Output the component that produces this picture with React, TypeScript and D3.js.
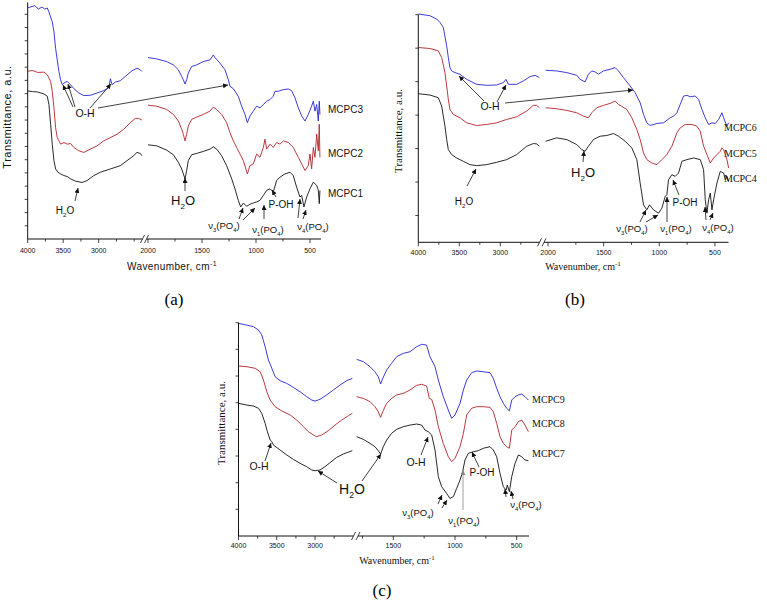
import React from "react";
import * as d3 from "d3";

type Pt = [number, number];

// ---------------- Panel (a) : wavenumber (cm-1), transmittance (a.u.) ----------------
const MCPC3_L_A: Pt[] = [[3995,175],[3900,176.5],[3850,174],[3800,175.5],[3760,174],[3724,174.75],[3701,171.75],[3654,164.25],[3630,156.75],[3607,144.25],[3584,135.5],[3560,126.75],[3537,120.5],[3513,116.75],[3490,118],[3443,119.25],[3420,118],[3396,116.75],[3350,113.75],[3280,110.5],[3209,108.5],[3116,108.75],[3022,110.5],[2929,112.25],[2859,114.25],[2835,121.25],[2812,116.75],[2765,118.75],[2695,119.75],[2625,123],[2531,127.25],[2461,129.25],[2414,128],[2391,126.75]];
const MCPC2_L_A: Pt[] = [[3995,127],[3930,127.5],[3860,126],[3771,126.25],[3724,124.25],[3677,119.25],[3654,111.75],[3630,99.25],[3607,84.25],[3584,76.75],[3560,74.25],[3537,71.75],[3490,73],[3443,71.75],[3396,72.25],[3350,69.25],[3280,66.75],[3209,65.5],[3116,68],[3022,70.5],[2929,74.25],[2835,76.75],[2742,79.25],[2648,83],[2555,88],[2484,91.25],[2438,91.25],[2391,90]];
const MCPC1_L_A: Pt[] = [[3995,112],[3930,111.5],[3864,111.25],[3771,109.75],[3724,108],[3701,101.75],[3677,86.75],[3654,71.75],[3630,59.25],[3607,53],[3574,50.5],[3537,49.25],[3490,48],[3443,47.25],[3396,45.5],[3326,43.75],[3233,42.75],[3163,44.25],[3069,48],[2976,50.5],[2835,53],[2695,55.5],[2601,59.25],[2508,63],[2461,65.5],[2414,64.75],[2391,63]];
const MCPC3_R_A: Pt[] = [[2000,137.25],[1920,136.25],[1827,134.25],[1765,131.75],[1719,128],[1688,123],[1673,120.5],[1657,117.25],[1642,120.5],[1627,125.5],[1596,130.5],[1549,131.75],[1488,134.25],[1426,135.5],[1395,139.25],[1380,137.25],[1333,133],[1287,128],[1256,120.5],[1241,115.5],[1210,113.75],[1164,108],[1133,100.5],[1102,94.25],[1080,88],[1056,93],[1025,96.75],[994,100.5],[963,99.25],[932,101.75],[901,104.25],[870,105.5],[840,108],[824,111.75],[793,111.75],[747,113],[701,113.5],[670,112.25],[639,106.75],[608,99.25],[577,93],[546,89.25],[516,94.25],[485,100.5],[469,104.25],[454,96.75],[438,101.75],[423,89.25],[414,104.25],[408,94.25]];
const MCPC2_R_A: Pt[] = [[2000,101.25],[1920,100.5],[1827,98],[1765,94.25],[1719,89.25],[1688,83],[1673,79.25],[1657,74.25],[1642,79.25],[1627,85.5],[1596,90.5],[1549,92.25],[1488,94.25],[1426,96.75],[1395,99.75],[1364,98],[1318,94.25],[1272,88],[1241,80.5],[1210,74.25],[1179,69.25],[1148,64.25],[1117,59.25],[1080,49.25],[1056,55.5],[1025,56.75],[994,64.25],[963,61.75],[932,69.25],[917,75.5],[901,68],[870,71.75],[840,69.25],[809,73],[778,71.75],[747,74.25],[701,73],[655,69.25],[608,61.75],[577,56.75],[546,51.75],[516,55.5],[500,64.25],[485,53],[469,69.25],[454,61.75],[438,79.25],[423,66.75],[414,86.75],[408,61.75]];
const MCPC1_R_A: Pt[] = [[2000,71.25],[1920,70.5],[1827,67.25],[1765,63.75],[1719,58],[1688,53],[1673,49.25],[1657,45.5],[1642,51.75],[1627,59.25],[1596,63.75],[1549,64.75],[1488,66.25],[1426,68],[1395,69.75],[1364,68],[1318,63],[1272,55.5],[1225,45.5],[1195,38],[1164,29.25],[1142,24.25],[1117,27.25],[1087,24.75],[1056,26.25],[1025,27.25],[994,28],[963,29.25],[932,33],[901,36.75],[870,38],[840,35.5],[809,44.25],[778,46.75],[732,49.25],[685,50.5],[655,48],[624,39.25],[593,31.75],[577,33],[556,24.25],[531,31.75],[500,38],[469,43],[438,40.5],[423,37],[414,26.75],[408,36.75]];

// ---------------- Panel (b) ----------------
const MCPC6_L_B: Pt[] = [[4000,68.2],[3858,67.7],[3776,66.7],[3736,65.7],[3695,64.2],[3654,58.7],[3634,55.2],[3614,52.2],[3593,51.2],[3553,50.7],[3492,50.2],[3411,48.7],[3289,47.2],[3167,46.9],[3045,47],[2963,47.7],[2931,48.7],[2902,47.2],[2801,47.2],[2720,48.2],[2638,49.5],[2577,49.9],[2524,49.2]];
const MCPC5_L_B: Pt[] = [[4000,58.2],[3858,57.9],[3756,57.2],[3715,55.2],[3675,50.7],[3654,46.7],[3634,42.7],[3614,39.7],[3573,38.2],[3492,37.2],[3411,35.7],[3289,34.9],[3167,35.2],[3045,35.7],[2923,36.7],[2801,37.5],[2679,39.2],[2598,40.9],[2557,40.9],[2524,40.2]];
const MCPC4_L_B: Pt[] = [[4000,44.4],[3858,44],[3756,43.2],[3715,40.7],[3675,34.7],[3654,30.7],[3634,27.7],[3593,26.2],[3533,25.2],[3451,24.2],[3370,23.2],[3289,22.9],[3167,23.2],[3045,23.9],[2923,24.7],[2801,26.2],[2679,28.7],[2598,29.5],[2557,29.4],[2524,28.7]];
const MCPC6_R_B: Pt[] = [[2021,51.4],[1922,51.2],[1832,50.7],[1742,49.9],[1712,48.7],[1667,47.9],[1637,50.2],[1607,51.2],[1577,50.9],[1547,50.2],[1502,51.2],[1442,51.7],[1397,52.2],[1367,51.2],[1322,49.2],[1262,46.7],[1217,44.7],[1172,41.7],[1142,38.2],[1112,35.7],[1082,34.9],[1022,35.5],[962,35.7],[902,37.2],[872,37.7],[842,38.7],[812,41.2],[782,43.7],[752,43.9],[722,43.5],[677,43.7],[647,42.7],[617,39.7],[587,37.2],[557,35.2],[527,35.7],[497,35.5],[467,36.7],[437,38.7],[422,37.2],[392,34.7],[377,35.7]];
const MCPC5_R_B: Pt[] = [[2021,40.2],[1922,39.9],[1832,39.4],[1742,38.7],[1682,37.7],[1637,37.2],[1607,38.7],[1562,40.2],[1502,40.9],[1442,41.5],[1397,42.2],[1367,41.2],[1292,39.7],[1247,37.2],[1202,33.7],[1172,30.7],[1142,26.7],[1112,24.7],[1067,23.7],[1022,23.2],[977,24.7],[932,26.2],[887,28.7],[842,32.7],[812,34.2],[767,35.2],[707,35.2],[662,34.7],[632,33.2],[602,28.7],[572,26.2],[542,23.7],[512,25.2],[482,26.2],[452,27.2],[437,28.2],[422,27.7],[392,24.7],[377,22.2]];
const MCPC4_R_B: Pt[] = [[2021,30.2],[1922,31.2],[1832,30.7],[1742,29.2],[1697,27.7],[1667,27.2],[1637,28.7],[1592,30.7],[1532,31.7],[1472,31.9],[1412,32.5],[1367,31.7],[1307,30.2],[1247,28.2],[1202,24.7],[1172,17.7],[1142,11.2],[1112,9.7],[1088,11.2],[1052,9.7],[1007,8.7],[977,10.2],[947,13.7],[932,14.2],[917,18.7],[887,20.2],[857,19.7],[827,20.7],[797,24.2],[752,24.7],[692,25.2],[632,24.7],[602,21.7],[587,12.7],[572,8.7],[557,12.7],[542,14.7],[527,9.7],[512,12.7],[482,17.7],[452,21.2],[422,20.7],[407,18.7],[392,19.7],[377,18.2]];

// ---------------- Panel (c) ----------------
const MCPC9_L_C: Pt[] = [[4000,79.75],[3891,79.1],[3804,78.5],[3739,77.25],[3696,75.4],[3652,71],[3609,66],[3565,62.9],[3522,59.75],[3457,58.25],[3370,57.25],[3283,55.75],[3196,54.1],[3109,52.25],[3043,51],[3000,50.6],[2935,51.25],[2848,52.9],[2761,54.75],[2674,56.6],[2587,58.25],[2513,59.1]];
const MCPC8_L_C: Pt[] = [[4000,63.75],[3891,63.5],[3783,62.9],[3717,61.6],[3674,58.5],[3630,54.1],[3587,51],[3522,48.5],[3435,46.9],[3326,45.4],[3239,43.5],[3152,41],[3087,39.1],[3022,37.9],[2978,37.25],[2913,37.9],[2826,39.5],[2739,41.6],[2652,43.5],[2565,45.1],[2513,46]];
const MCPC7_L_C: Pt[] = [[4000,49.75],[3891,49.1],[3804,48.75],[3739,47.9],[3696,46],[3652,42.25],[3622,39.1],[3587,36],[3565,35.4],[3543,34.1],[3457,32.25],[3370,30.4],[3283,28.75],[3196,27.25],[3109,26],[3043,24.75],[3000,24.5],[2935,24.75],[2870,26],[2804,27.5],[2717,29.5],[2630,30.75],[2513,32]];
const MCPC9_R_C: Pt[] = [[1797,66.25],[1743,65.4],[1689,63.5],[1649,61.6],[1622,59.75],[1603,57],[1586,59.1],[1554,62.25],[1514,64.75],[1473,67.25],[1419,68.5],[1365,69.1],[1311,71],[1270,71.9],[1230,71.6],[1203,67.25],[1189,66],[1162,63.5],[1135,58.5],[1095,52.25],[1054,47.25],[1027,44.1],[1000,45.4],[959,49.75],[932,54.75],[905,58.5],[865,61.25],[824,61.9],[770,61.6],[716,61.25],[689,59.1],[662,55.4],[635,52.25],[608,49.75],[581,47.9],[559,46.9],[540,51],[513,52.25],[486,52.9],[459,53.25],[432,52.25],[405,51]];
const MCPC8_R_C: Pt[] = [[1797,52.25],[1743,51.6],[1689,50.4],[1649,48.5],[1622,46.6],[1603,44.5],[1586,46.6],[1554,49.75],[1514,51.6],[1473,52.9],[1419,53.5],[1365,54.75],[1311,56.5],[1270,56.9],[1230,56.25],[1208,51.6],[1189,51.25],[1162,47.25],[1135,41],[1095,34.75],[1054,29.75],[1027,27.9],[1000,29.1],[959,33.5],[932,38.5],[905,45.4],[865,47.9],[824,48.5],[770,48.5],[716,48.25],[689,46.6],[662,42.25],[635,37.25],[608,34.75],[581,33.5],[559,32.9],[540,39.75],[513,41],[486,42.9],[459,43.5],[432,41.6],[405,39.1]];
const MCPC7_R_C: Pt[] = [[1797,37.25],[1743,36.25],[1689,34.75],[1649,33.5],[1622,32],[1603,30.75],[1581,33.5],[1554,36],[1514,38.5],[1473,40],[1419,41],[1365,41.6],[1311,42],[1270,41.6],[1243,39.75],[1216,39.1],[1189,37.9],[1162,32.25],[1135,22.25],[1108,18.5],[1068,16],[1041,14.1],[1013,14.75],[986,17.9],[959,21],[938,24.1],[919,28.5],[892,31],[851,31.6],[811,32],[770,32.9],[716,33.5],[689,32.25],[662,29.75],[635,23.5],[608,18.5],[586,17.25],[576,19.1],[559,16.6],[540,22.25],[513,27.25],[486,30.4],[459,29.75],[432,28.5],[405,28.25]];

// tick values
const TICKS_MAJOR_L = [4000, 3500, 3000];
const TICKS_MINOR_L = [3750, 3250, 2750];
const TICKS_MAJOR_R = [2000, 1500, 1000, 500];
const TICKS_MINOR_R = [1750, 1250, 750];

const BLUE = "#2626d4";
const RED = "#b32428";
const BLACK = "#111111";
const SANS = "'Liberation Sans', Arial, sans-serif";
const SERIF = "'Liberation Serif', 'Times New Roman', serif";

type Part = [string, boolean];
interface Note { x: number; y: number; parts: Part[]; size: number; }
type Arrow = [number, number, number, number, string?];

const OH: Part[] = [["O-H", false]];
const H2O: Part[] = [["H", false], ["2", true], ["O", false]];
const POH: Part[] = [["P-OH", false]];
const nu = (k: string): Part[] => [["ν", false], [k, true], ["(PO", false], ["4", true], [")", false]];

function ChemText({ x, y, parts, size, font, anchor = "middle" }: any) {
  let prevSub = false;
  const spans = parts.map(([t, sub]: Part, i: number) => {
    let dy = 0;
    if (sub && !prevSub) dy = size * 0.3;
    if (!sub && prevSub) dy = -size * 0.3;
    prevSub = sub;
    return (
      <tspan key={i} dy={dy || undefined} fontSize={sub ? size * 0.62 : size}>
        {t}
      </tspan>
    );
  });
  return (
    <text x={x} y={y} fontSize={size} fontFamily={font} textAnchor={anchor} fill="#111">
      {spans}
    </text>
  );
}

const panels = [
  {
    key: "a",
    series: [
      { left: MCPC1_L_A, right: MCPC1_R_A, color: BLACK, label: "MCPC1", ly: 197 },
      { left: MCPC2_L_A, right: MCPC2_R_A, color: RED, label: "MCPC2", ly: 157 },
      { left: MCPC3_L_A, right: MCPC3_R_A, color: BLUE, label: "MCPC3", ly: 113 },
    ],
    yAxisX: 27.7, xAxisY: 239, yDomain: [0, 179], yRange: [239, 2.4], yTicks: d3.range(10, 171, 10),
    leftDom: [4000, 2390], leftRange: [27.7, 142], rightDom: [2000, 400], rightRange: [148, 320.8],
    breakL: 142.5, breakR: 146.5, axisEnd: 321, minorExtraL: [2500],
    majorR: TICKS_MAJOR_R, tickY: 253, labelX: 328, labelFont: SANS, labelSize: 10, titleFont: SANS,
    xTitle: [172, 270], yTitle: [11, 117], caption: ["(a)", 174, 305],
    notes: [
      { x: 85, y: 117, parts: OH, size: 10.5 },
      { x: 65, y: 214, parts: H2O, size: 10 },
      { x: 183, y: 205, parts: H2O, size: 13 },
      { x: 224, y: 229, parts: nu("3"), size: 9.5 },
      { x: 268, y: 233, parts: nu("1"), size: 9.5 },
      { x: 281, y: 208, parts: POH, size: 10 },
      { x: 313, y: 230, parts: nu("4"), size: 9.5 },
    ] as Note[],
    arrows: [
      [73, 107, 63, 85], [75, 107, 68, 84], [90, 108, 111, 84], [98, 108, 228, 85],
      [75, 201, 78, 188], [185, 191, 185, 178],
      [239, 219, 243, 208], [243, 220, 255, 208],
      [264, 219, 264, 205], [276, 197, 272, 190],
      [298, 218, 300, 199], [303, 219, 306, 210],
    ] as Arrow[],
  },
  {
    key: "b",
    series: [
      { left: MCPC4_L_B, right: MCPC4_R_B, color: BLACK, label: "MCPC4", ly: 182 },
      { left: MCPC5_L_B, right: MCPC5_R_B, color: RED, label: "MCPC5", ly: 157 },
      { left: MCPC6_L_B, right: MCPC6_R_B, color: BLUE, label: "MCPC6", ly: 131 },
    ],
    yAxisX: 418.3, xAxisY: 242.3, yDomain: [0, 68], yRange: [242.3, 14.7], yTicks: d3.range(8, 69, 10),
    leftDom: [4000, 2520], leftRange: [418.3, 539.7], rightDom: [2020, 380], rightRange: [545.8, 728.3],
    breakL: 539.5, breakR: 544, axisEnd: 728.5, minorExtraL: [],
    majorR: TICKS_MAJOR_R, tickY: 255, labelX: 724, labelFont: SERIF, labelSize: 10, titleFont: SERIF,
    xTitle: [583, 270], yTitle: [402, 131], caption: ["(b)", 575, 305],
    notes: [
      { x: 490, y: 110, parts: OH, size: 10.5 },
      { x: 464, y: 205, parts: H2O, size: 10 },
      { x: 583, y: 177, parts: H2O, size: 13 },
      { x: 632, y: 232, parts: nu("3"), size: 9.5 },
      { x: 676, y: 232, parts: nu("1"), size: 9.5 },
      { x: 685, y: 206, parts: POH, size: 10 },
      { x: 718, y: 231, parts: nu("4"), size: 9.5 },
    ] as Note[],
    arrows: [
      [484, 101, 459, 76], [497, 102, 506, 85], [505, 103, 633, 90],
      [467, 186, 476, 169], [583, 162, 584, 151],
      [640, 222, 646, 210], [646, 222, 658, 215],
      [667, 222, 667, 197], [679, 195, 673, 180],
      [706, 220, 705, 207], [710, 220, 713, 213],
    ] as Arrow[],
  },
  {
    key: "c",
    series: [
      { left: MCPC7_L_C, right: MCPC7_R_C, color: BLACK, label: "MCPC7", ly: 457 },
      { left: MCPC8_L_C, right: MCPC8_R_C, color: RED, label: "MCPC8", ly: 427 },
      { left: MCPC9_L_C, right: MCPC9_R_C, color: BLUE, label: "MCPC9", ly: 403 },
    ],
    yAxisX: 238.5, xAxisY: 536, yDomain: [0, 80], yRange: [536, 322.7], yTicks: d3.range(10, 81, 10),
    leftDom: [4000, 2500], leftRange: [238.5, 353.3], rightDom: [1800, 400], rightRange: [356.3, 529],
    breakL: 353.5, breakR: 358, axisEnd: 529, minorExtraL: [],
    majorR: [1500, 1000, 500], tickY: 548, labelX: 532, labelFont: SERIF, labelSize: 10, titleFont: SERIF,
    xTitle: [397, 564], yTitle: [225, 423], caption: ["(c)", 382, 596],
    notes: [
      { x: 259, y: 470, parts: OH, size: 10.5 },
      { x: 352, y: 494, parts: H2O, size: 14 },
      { x: 416, y: 466, parts: OH, size: 10.5 },
      { x: 418, y: 516, parts: nu("3"), size: 9.5 },
      { x: 464, y: 524, parts: nu("1"), size: 9.5 },
      { x: 482, y: 476, parts: POH, size: 10 },
      { x: 526, y: 508, parts: nu("4"), size: 9.5 },
    ] as Note[],
    arrows: [
      [265, 461, 271, 443], [337, 483, 318, 471], [362, 481, 381, 454],
      [421, 455, 428, 437], [438, 504, 442, 495], [442, 508, 447, 500],
      [463, 510, 463, 470, "#888"], [479, 467, 472, 452],
      [506, 497, 505, 489], [513, 499, 511, 491],
    ] as Arrow[],
  },
];

function Panel({ p }: any) {
  const xl = d3.scaleLinear().domain(p.leftDom).range(p.leftRange);
  const xr = d3.scaleLinear().domain(p.rightDom).range(p.rightRange);
  const y = d3.scaleLinear().domain(p.yDomain).range(p.yRange);
  const lineL = d3.line<Pt>().x((d) => xl(d[0])).y((d) => y(d[1]));
  const lineR = d3.line<Pt>().x((d) => xr(d[0])).y((d) => y(d[1]));
  const ax = p.yAxisX;
  const ay = p.xAxisY;
  const minorL = [...TICKS_MINOR_L, ...p.minorExtraL];
  return (
    <g>
      {/* spectra */}
      {p.series.map((s: any) => (
        <g key={s.label}>
          <path d={lineL(s.left) || ""} fill="none" stroke={s.color} strokeWidth={0.9} strokeLinejoin="round" />
          <path d={lineR(s.right) || ""} fill="none" stroke={s.color} strokeWidth={0.9} strokeLinejoin="round" />
          <text x={p.labelX} y={s.ly} fontFamily={p.labelFont} fontSize={p.labelSize} fill="#111">
            {s.label}
          </text>
        </g>
      ))}
      {/* y axis */}
      <line x1={ax} x2={ax} y1={p.yRange[1]} y2={ay} stroke="#111" strokeWidth={1} />
      {p.yTicks.map((t: number) => (
        <line key={t} x1={ax - 3} x2={ax} y1={y(t)} y2={y(t)} stroke="#111" strokeWidth={0.8} />
      ))}
      {/* x axis with break */}
      <line x1={ax} x2={p.breakL} y1={ay} y2={ay} stroke="#111" strokeWidth={1} />
      <line x1={p.breakR} x2={p.axisEnd} y1={ay} y2={ay} stroke="#111" strokeWidth={1} />
      <line x1={p.breakL - 2} x2={p.breakL + 2} y1={ay + 4} y2={ay - 4} stroke="#111" strokeWidth={0.8} />
      <line x1={p.breakR - 2} x2={p.breakR + 2} y1={ay + 4} y2={ay - 4} stroke="#111" strokeWidth={0.8} />
      {TICKS_MAJOR_L.map((t) => (
        <g key={"ml" + t}>
          <line x1={xl(t)} x2={xl(t)} y1={ay} y2={ay + 4} stroke="#111" strokeWidth={0.8} />
          <text x={xl(t)} y={p.tickY} fontSize={7} fontFamily={SANS} textAnchor="middle" fill="#111">{t}</text>
        </g>
      ))}
      {minorL.map((t: number) => (
        <line key={"nl" + t} x1={xl(t)} x2={xl(t)} y1={ay} y2={ay + 2.5} stroke="#111" strokeWidth={0.8} />
      ))}
      {p.majorR.map((t: number) => (
        <g key={"mr" + t}>
          <line x1={xr(t)} x2={xr(t)} y1={ay} y2={ay + 4} stroke="#111" strokeWidth={0.8} />
          <text x={xr(t)} y={p.tickY} fontSize={7} fontFamily={SANS} textAnchor="middle" fill="#111">{t}</text>
        </g>
      ))}
      {TICKS_MINOR_R.map((t) => (
        <line key={"nr" + t} x1={xr(t)} x2={xr(t)} y1={ay} y2={ay + 2.5} stroke="#111" strokeWidth={0.8} />
      ))}
      {/* titles */}
      <text x={p.xTitle[0]} y={p.xTitle[1]} fontSize={10} fontFamily={p.titleFont} textAnchor="middle" fill="#111" letterSpacing={p.titleFont === SANS ? 0.4 : 0}>
        Wavenumber, cm
        <tspan fontSize={7} dy={-4}>-1</tspan>
      </text>
      <text transform={`translate(${p.yTitle[0]},${p.yTitle[1]}) rotate(-90)`} fontSize={11} fontFamily={p.titleFont} textAnchor="middle" fill="#111" letterSpacing={p.titleFont === SANS ? 0.5 : 0}>
        Transmittance, a.u.
      </text>
      <text x={p.caption[1]} y={p.caption[2]} fontSize={17} fontFamily={SERIF} textAnchor="middle" fill="#000">
        {p.caption[0]}
      </text>
      {/* annotations */}
      {p.notes.map((n: Note, i: number) => (
        <ChemText key={"n" + i} x={n.x} y={n.y} parts={n.parts} size={n.size} font={SANS} />
      ))}
      {p.arrows.map((a: Arrow, i: number) => (
        <line key={"a" + i} x1={a[0]} y1={a[1]} x2={a[2]} y2={a[3]} stroke={a[4] || "#111"} strokeWidth={0.8} markerEnd={a[4] ? "url(#headGray)" : "url(#head)"} />
      ))}
    </g>
  );
}

export default function App() {
  return (
    <svg width={767} height={602} style={{ position: "absolute", left: 0, top: 0, background: "#fff" }}>
      <defs>
        <marker id="head" markerUnits="userSpaceOnUse" markerWidth={6} markerHeight={5} refX={5} refY={2.5} orient="auto">
          <path d="M0,0 L5,2.5 L0,5 z" fill="#111" />
        </marker>
        <marker id="headGray" markerUnits="userSpaceOnUse" markerWidth={6} markerHeight={5} refX={5} refY={2.5} orient="auto">
          <path d="M0,0 L5,2.5 L0,5 z" fill="#888" />
        </marker>
      </defs>
      <rect width={767} height={602} fill="#fff" />
      {panels.map((p) => (
        <Panel key={p.key} p={p} />
      ))}
    </svg>
  );
}
